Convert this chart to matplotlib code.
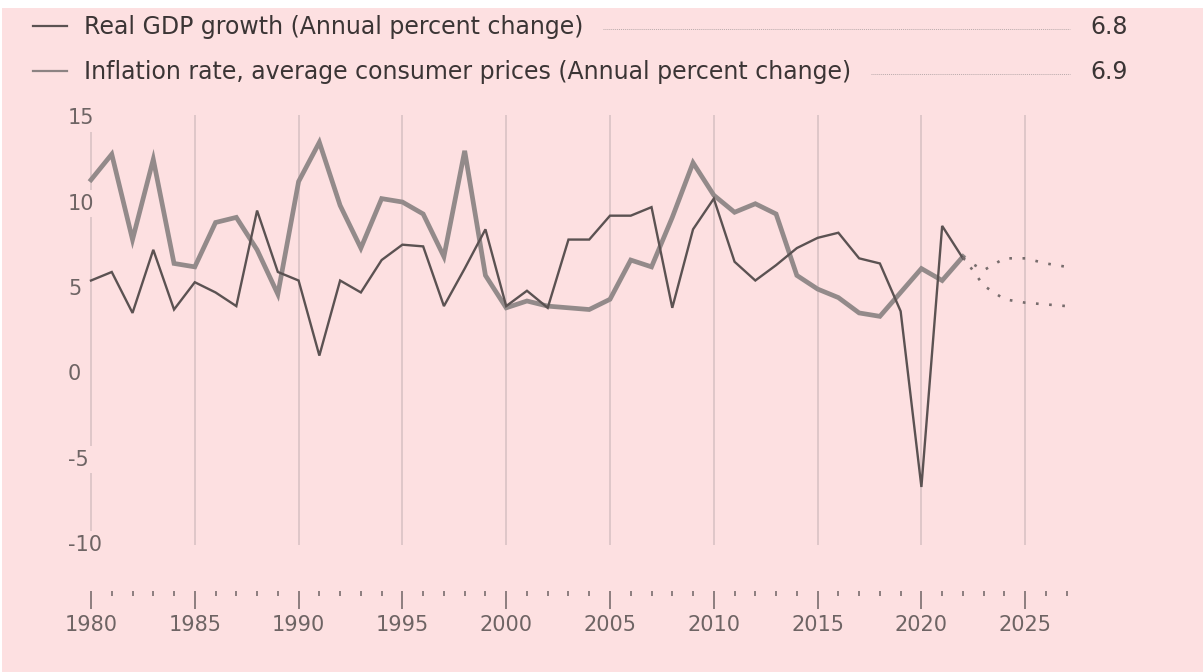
import matplotlib
matplotlib.use("Agg")
import matplotlib.pyplot as plt
from matplotlib.patches import Rectangle
from matplotlib.lines import Line2D
from matplotlib.ticker import FixedLocator

# data
years = list(range(1980, 2023))
gdp = [5.5, 6.0, 3.6, 7.3, 3.8, 5.4, 4.8, 4.0, 9.6, 6.0,
       5.5, 1.1, 5.5, 4.8, 6.7, 7.6, 7.5, 4.0, 6.2, 8.5,
       4.0, 4.9, 3.9, 7.9, 7.9, 9.3, 9.3, 9.8, 3.9, 8.5,
       10.3, 6.6, 5.5, 6.4, 7.4, 8.0, 8.3, 6.8, 6.5, 3.7,
       -6.6, 8.7, 6.8]
inflation = [11.4, 12.9, 7.9, 12.6, 6.5, 6.3, 8.9, 9.2, 7.3, 4.7,
             11.3, 13.6, 9.9, 7.4, 10.3, 10.1, 9.4, 6.9, 13.1, 5.8,
             3.9, 4.3, 4.0, 3.9, 3.8, 4.4, 6.7, 6.3, 9.2, 12.4,
             10.5, 9.5, 10.0, 9.4, 5.8, 5.0, 4.5, 3.6, 3.4, 4.8,
             6.2, 5.5, 6.9]
proj_years = [2022, 2023, 2024, 2025, 2026, 2027]
gdp_proj = [6.8, 6.1, 6.8, 6.8, 6.5, 6.3]
inflation_proj = [6.9, 5.2, 4.4, 4.2, 4.1, 4.0]

legend_labels = ["Real GDP growth (Annual percent change)",
                 "Inflation rate, average consumer prices (Annual percent change)"]
legend_values = ["6.8", "6.9"]
y_ticks = [15, 10, 5, 0, -5, -10]
major_years = list(range(1980, 2026, 5))
minor_years = [y for y in range(1981, 2028) if y % 5 != 0]

W, H = 1203, 672
bg = "#fde0e1"
grid_c = "#d9c3c5"
gdp_c = "#5b5252"
infl_c = "#938a8a"
text_c = "#3b3535"
tick_c = "#6e6464"

plt.rcParams["font.family"] = ["DejaVu Sans"]

fig = plt.figure(figsize=(W / 100, H / 100), dpi=100, facecolor="white")
fig.patches.append(Rectangle((2 / W, 0), 1 - 2 / W, (H - 8) / H,
                             transform=fig.transFigure, facecolor=bg,
                             edgecolor="none", zorder=-10))


def fx(px):
    return px / W


def fy(py):
    return (H - py) / H


# axes so that 1980 -> x=91px, 15 -> y=118px, -10 -> y=545px
px_year = 20.76
left_px = 91 - px_year
right_px = 91 + 49 * px_year
ax = fig.add_axes([fx(left_px), fy(545), fx(right_px - left_px), (545 - 115) / H])
ax.set_facecolor("none")
ax.set_xlim(1979, 2029)
ax.set_ylim(-10, 15.2)

for s in ["top", "right", "left"]:
    ax.spines[s].set_visible(False)
ax.spines["bottom"].set_position(("outward", 33))
ax.spines["bottom"].set_visible(False)

for yr in major_years:
    ax.axvline(yr, color=grid_c, lw=1.2, zorder=0)

ax.plot(years, inflation, color=infl_c, lw=3.4, solid_joinstyle="miter", zorder=2)
ax.plot(years, gdp, color=gdp_c, lw=1.7, solid_joinstyle="miter", zorder=3)
ax.plot(proj_years, gdp_proj, color="#766c6c", lw=1.9, ls=(0, (1, 4)), zorder=3)
ax.plot(proj_years, inflation_proj, color="#766c6c", lw=1.9, ls=(0, (1, 4)), zorder=3)

ax.xaxis.set_major_locator(FixedLocator(major_years))
ax.xaxis.set_minor_locator(FixedLocator(minor_years))
ax.set_xticklabels([str(y) for y in major_years])
ax.tick_params(axis="x", which="major", length=13, width=1.1, color=tick_c,
               labelsize=15, labelcolor=tick_c, pad=4.5)
ax.tick_params(axis="x", which="minor", length=3.6, width=1.1, color=tick_c)
ax.set_yticks([])

# y labels sit over the 1980 line
for v in y_ticks:
    ax.text(1980 - 23 / px_year, v, str(v), ha="left", va="center",
            fontsize=15, color=tick_c, zorder=5,
            bbox=dict(facecolor=bg, edgecolor="none", pad=2.5))

# legend rows
rows_y = [27, 72]
marker_c = [gdp_c, "#8c8383"]
for i in range(2):
    fig.add_artist(Line2D([fx(33), fx(67)], [fy(rows_y[i] - 1), fy(rows_y[i] - 1)],
                          color=marker_c[i], lw=1.6))
    t = fig.text(fx(84), fy(rows_y[i]), legend_labels[i], ha="left", va="center",
                 fontsize=17, color=text_c)
    fig.text(fx(1090), fy(rows_y[i]), legend_values[i], ha="left", va="center",
             fontsize=17, color=text_c)
    fig.canvas.draw()
    bb = t.get_window_extent(fig.canvas.get_renderer())
    x0 = bb.x1 + 20
    fig.add_artist(Line2D([x0 / W, fx(1070)], [fy(rows_y[i] + 2), fy(rows_y[i] + 2)],
                          color="#b9aaab", lw=0.7, ls=(0, (1, 1))))

fig.savefig("out.png", dpi=100, facecolor=fig.get_facecolor())
